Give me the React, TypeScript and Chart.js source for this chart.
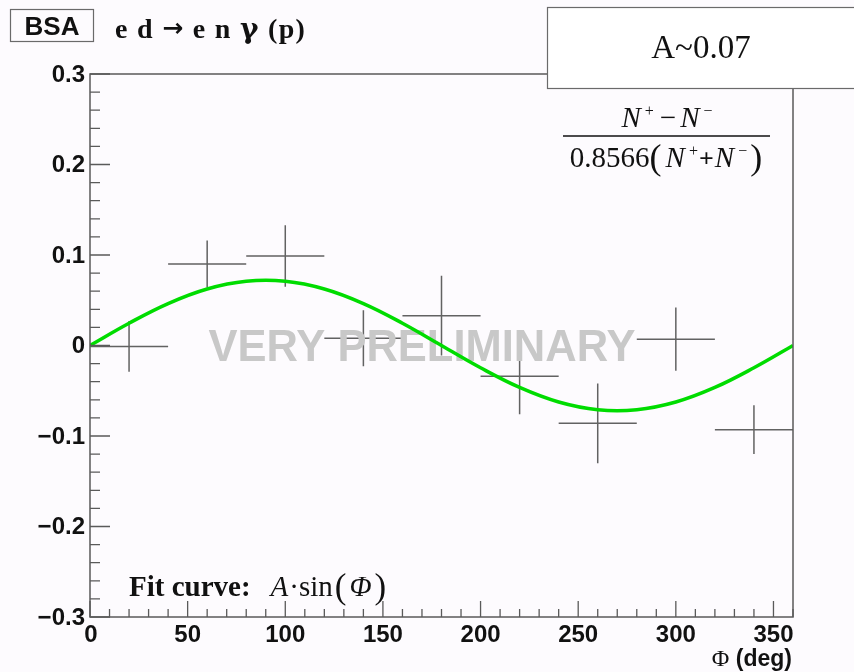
import React, { useEffect, useRef } from "react";
import { Chart, registerables } from "chart.js";

Chart.register(...registerables);

// ---- Data ----
const phiBins = [20, 60, 100, 140, 180, 220, 260, 300, 340];
const phiHalfWidths = [20, 20, 20, 20, 20, 20, 20, 20, 20];
const bsaValues = [-0.001, 0.09, 0.099, 0.008, 0.033, -0.034, -0.086, 0.007, -0.093];
const bsaErrors = [0.028, 0.026, 0.034, 0.031, 0.044, 0.042, 0.044, 0.035, 0.027];

// fit curve A*sin(phi)
const fitPhi = [0, 20, 40, 60, 80, 100, 120, 140, 160, 180, 200, 220, 240, 260, 280, 300, 320, 340, 360];
const fitValues = [0, 0.0246, 0.0463, 0.0624, 0.0709, 0.0709, 0.0624, 0.0463, 0.0246, 0, -0.0246, -0.0463, -0.0624, -0.0709, -0.0709, -0.0624, -0.0463, -0.0246, 0];

const xMajorTicks = [0, 50, 100, 150, 200, 250, 300, 350];
const xTickLabels = ["0", "50", "100", "150", "200", "250", "300", "350"];
const yMajorTicks = [0.3, 0.2, 0.1, 0, -0.1, -0.2, -0.3];
const yTickLabels = ["0.3", "0.2", "0.1", "0", "\u22120.1", "\u22120.2", "\u22120.3"];

const SANS = '"Liberation Sans", Arial, sans-serif';
const SERIF = '"Liberation Serif", "Times New Roman", serif';

type Run = { t: string; font: string; dy?: number; dx?: number };

function runsWidth(ctx: CanvasRenderingContext2D, runs: Run[]) {
  let w = 0;
  for (const r of runs) {
    ctx.font = r.font;
    w += ctx.measureText(r.t).width + (r.dx || 0);
  }
  return w;
}

function drawRuns(ctx: CanvasRenderingContext2D, runs: Run[], x: number, y: number, align: "left" | "center" | "right") {
  const w = runsWidth(ctx, runs);
  let cx = align === "left" ? x : align === "center" ? x - w / 2 : x - w;
  ctx.textAlign = "left";
  ctx.textBaseline = "alphabetic";
  for (const r of runs) {
    ctx.font = r.font;
    cx += r.dx || 0;
    ctx.fillText(r.t, cx, y + (r.dy || 0));
    cx += ctx.measureText(r.t).width;
  }
}

const rootPlugin = {
  id: "rootStyle",
  beforeDraw(chart: any) {
    const ctx = chart.ctx as CanvasRenderingContext2D;
    ctx.save();
    ctx.fillStyle = "#fdfbfe";
    ctx.fillRect(0, 0, chart.width, chart.height);
    ctx.restore();
  },
  beforeDatasetsDraw(chart: any) {
    const ctx = chart.ctx as CanvasRenderingContext2D;
    const xs = chart.scales.x;
    const ys = chart.scales.y;
    const a = chart.chartArea;
    ctx.save();
    ctx.beginPath();
    ctx.rect(a.left, a.top, a.right - a.left, a.bottom - a.top);
    ctx.clip();
    ctx.strokeStyle = "#626262";
    ctx.lineWidth = 1.5;
    for (let i = 0; i < phiBins.length; i++) {
      const px = xs.getPixelForValue(phiBins[i]);
      const py = ys.getPixelForValue(bsaValues[i]);
      const x0 = xs.getPixelForValue(phiBins[i] - phiHalfWidths[i]);
      const x1 = xs.getPixelForValue(phiBins[i] + phiHalfWidths[i]);
      const y0 = ys.getPixelForValue(bsaValues[i] + bsaErrors[i]);
      const y1 = ys.getPixelForValue(bsaValues[i] - bsaErrors[i]);
      ctx.beginPath();
      ctx.moveTo(x0, py);
      ctx.lineTo(x1, py);
      ctx.moveTo(px, y0);
      ctx.lineTo(px, y1);
      ctx.stroke();
    }
    // watermark
    ctx.fillStyle = "#c8c8c8";
    ctx.font = `bold 43.5px ${SANS}`;
    ctx.textAlign = "center";
    ctx.textBaseline = "middle";
    ctx.fillText("VERY PRELIMINARY", 422, 349);
    ctx.restore();
  },
  afterDraw(chart: any) {
    const ctx = chart.ctx as CanvasRenderingContext2D;
    const xs = chart.scales.x;
    const ys = chart.scales.y;
    const a = chart.chartArea;
    ctx.save();
    // frame
    ctx.strokeStyle = "#5a5a5a";
    ctx.lineWidth = 1.5;
    ctx.strokeRect(a.left, a.top, a.right - a.left, a.bottom - a.top);

    // y ticks
    ctx.lineWidth = 1.3;
    ctx.beginPath();
    for (let v = -30; v <= 30; v += 2) {
      const py = ys.getPixelForValue(v / 100);
      const major = v % 10 === 0;
      ctx.moveTo(a.left, py);
      ctx.lineTo(a.left + (major ? 20 : 10), py);
    }
    // x ticks
    for (let v = 0; v <= 360; v += 10) {
      const px = xs.getPixelForValue(v);
      const major = v % 50 === 0;
      ctx.moveTo(px, a.bottom);
      ctx.lineTo(px, a.bottom - (major ? 16 : 8));
    }
    ctx.stroke();

    // tick labels
    ctx.fillStyle = "#111";
    ctx.font = `bold 24px ${SANS}`;
    ctx.textAlign = "right";
    ctx.textBaseline = "middle";
    yMajorTicks.forEach((v, i) => {
      ctx.fillText(yTickLabels[i], 85, ys.getPixelForValue(v) + 1);
    });
    ctx.textAlign = "center";
    ctx.textBaseline = "alphabetic";
    xMajorTicks.forEach((v, i) => {
      const px = xs.getPixelForValue(v) + (v === 0 ? 1 : 0);
      ctx.fillText(xTickLabels[i], px, 642);
    });

    // axis title
    drawRuns(
      ctx,
      [
        { t: "\u03A6", font: `24px ${SERIF}` },
        { t: " (deg)", font: `bold 23px ${SANS}` },
      ],
      792,
      666,
      "right"
    );

    // BSA box
    ctx.fillStyle = "#fdfbfe";
    ctx.fillRect(10, 9, 84, 33);
    ctx.strokeStyle = "#6a6a6a";
    ctx.lineWidth = 1.2;
    ctx.strokeRect(10.5, 9.5, 83, 32);
    ctx.fillStyle = "#111";
    ctx.font = `bold 26px ${SANS}`;
    ctx.textAlign = "center";
    ctx.textBaseline = "alphabetic";
    ctx.fillText("BSA", 52, 35);

    // title
    const tf = `bold 28px ${SERIF}`;
    (ctx as any).letterSpacing = "1.3px";
    drawRuns(
      ctx,
      [
        { t: "e d ", font: tf },
        { t: "\u2192", font: `bold 25px "DejaVu Sans", sans-serif`, dy: -2 },
        { t: " e n ", font: tf },
        { t: "\u03B3", font: `bold 28px "DejaVu Serif", serif` },
        { t: " (p)", font: tf },
      ],
      115,
      38,
      "left"
    );
    (ctx as any).letterSpacing = "0px";

    // A~0.07 box
    ctx.fillStyle = "#ffffff";
    ctx.fillRect(547, 7, 320, 82);
    ctx.strokeStyle = "#6a6a6a";
    ctx.lineWidth = 1.2;
    ctx.strokeRect(547.5, 7.5, 330, 81);
    ctx.fillStyle = "#111";
    ctx.font = `33px ${SERIF}`;
    ctx.textAlign = "center";
    ctx.textBaseline = "middle";
    ctx.fillText("A~0.07", 701, 49);

    // formula
    ctx.fillStyle = "#111";
    const it = `italic 29px ${SERIF}`;
    const rm = `29px ${SERIF}`;
    const sup = `16px ${SERIF}`;
    drawRuns(
      ctx,
      [
        { t: "N", font: it },
        { t: "+", font: sup, dy: -11, dx: 4 },
        { t: "\u2212", font: rm, dx: 6 },
        { t: "N", font: it, dx: 4 },
        { t: "\u2212", font: sup, dy: -11, dx: 4 },
      ],
      667,
      127,
      "center"
    );
    ctx.strokeStyle = "#111";
    ctx.lineWidth = 1.5;
    ctx.beginPath();
    ctx.moveTo(563, 136);
    ctx.lineTo(770, 136);
    ctx.stroke();
    drawRuns(
      ctx,
      [
        { t: "0.8566", font: rm },
        { t: "(", font: `36px ${SERIF}`, dy: 2 },
        { t: "N", font: it, dx: 4 },
        { t: "+", font: sup, dy: -11, dx: 4 },
        { t: "+", font: `bold 26px ${SERIF}`, dx: 1 },
        { t: "N", font: it, dx: 1 },
        { t: "\u2212", font: sup, dy: -11, dx: 4 },
        { t: ")", font: `36px ${SERIF}`, dy: 2, dx: 3 },
      ],
      666,
      167,
      "center"
    );

    // fit curve label
    drawRuns(
      ctx,
      [
        { t: "Fit curve:", font: `bold 29px ${SERIF}` },
        { t: "A", font: `italic 29px ${SERIF}`, dx: 20 },
        { t: "\u00B7", font: `29px ${SERIF}`, dx: 1 },
        { t: "sin", font: `29px ${SERIF}` },
        { t: "(", font: `35px ${SERIF}`, dy: 2, dx: 2 },
        { t: "\u03A6", font: `italic 29px ${SERIF}`, dx: 3 },
        { t: ")", font: `35px ${SERIF}`, dy: 2, dx: 3 },
      ],
      129,
      596,
      "left"
    );
    ctx.restore();
  },
};

export default function App() {
  const ref = useRef<HTMLCanvasElement | null>(null);
  useEffect(() => {
    document.body.style.margin = "0";
    if (!ref.current) return;
    const chart = new Chart(ref.current, {
      type: "scatter",
      data: {
        datasets: [
          {
            label: "fit",
            data: fitPhi.map((x, i) => ({ x, y: fitValues[i] })),
            showLine: true,
            borderColor: "#00dc00",
            backgroundColor: "#00dc00",
            borderWidth: 3.5,
            pointRadius: 0,
            tension: 0.4,
          },
          {
            label: "BSA",
            data: phiBins.map((x, i) => ({ x, y: bsaValues[i] })),
            pointRadius: 0,
            borderColor: "#626262",
            backgroundColor: "#626262",
          },
        ],
      },
      options: {
        animation: false,
        responsive: false,
        events: [],
        layout: { padding: { left: 90, right: 61, top: 74, bottom: 55 } },
        plugins: { legend: { display: false }, tooltip: { enabled: false }, title: { display: false } },
        scales: {
          x: { type: "linear", min: 0, max: 360, display: false },
          y: { type: "linear", min: -0.3, max: 0.3, display: false },
        },
      },
      plugins: [rootPlugin],
    });
    return () => chart.destroy();
  }, []);
  return (
    <div style={{ width: 854, height: 672 }}>
      <canvas ref={ref} width={854} height={672} style={{ display: "block" }} />
    </div>
  );
}
